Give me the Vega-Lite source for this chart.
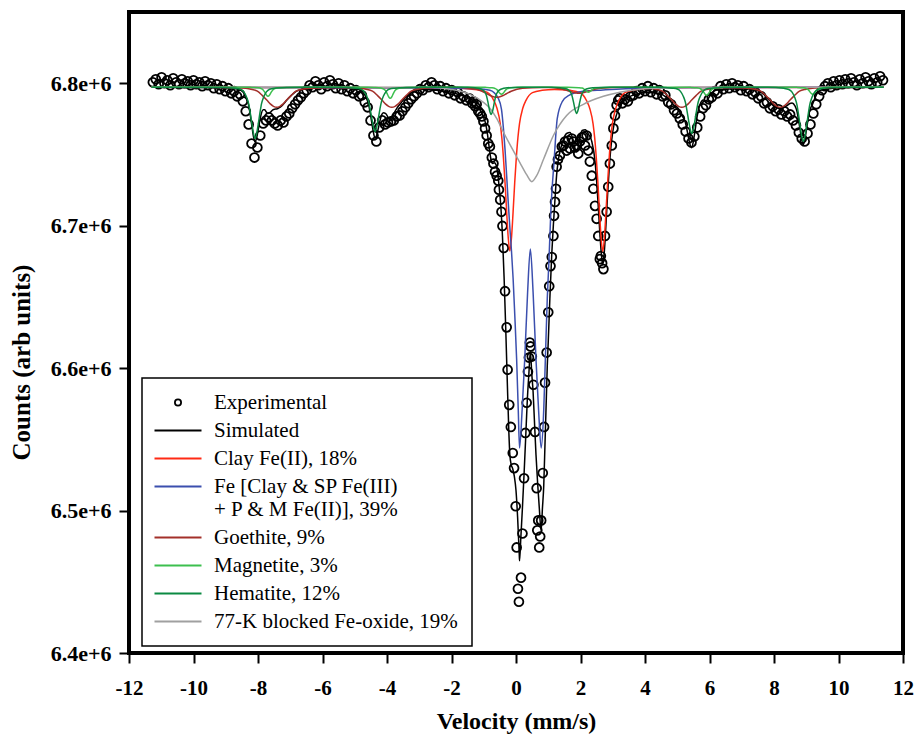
{
"$schema": "https://vega.github.io/schema/vega-lite/v6.json",
"width": 774,
"height": 641,
"autosize": {"type": "none"},
"padding": {"left": 129, "top": 12, "right": 11, "bottom": 87},
"background": "white",
"config": {
  "view": {"stroke": "black", "strokeWidth": 4},
  "font": "Liberation Serif",
  "axis": {"domain": false, "grid": false, "ticks": true, "tickColor": "black", "tickWidth": 2, "tickSize": 10, "labelFlush": false,
    "labelFont": "Liberation Serif", "labelFontWeight": "bold", "labelFontSize": 21, "labelColor": "black",
    "titleFont": "Liberation Serif", "titleFontWeight": "bold", "titleFontSize": 24, "titleColor": "black"},
  "legend": {"strokeWidth": 1.5}
},
"datasets": {
"exp": [
{"v":-11.26,"c":6.8007e6},{"v":-11.17,"c":6.8028e6},{"v":-11.08,"c":6.7993e6},{"v":-10.99,"c":6.8042e6},{"v":-10.90,"c":6.8000e6},{"v":-10.81,"c":6.8021e6},{"v":-10.72,"c":6.7986e6},{"v":-10.63,"c":6.8035e6},{"v":-10.54,"c":6.8007e6},{"v":-10.45,"c":6.7993e6},{"v":-10.36,"c":6.8028e6},{"v":-10.27,"c":6.8000e6},{"v":-10.18,"c":6.8014e6},{"v":-10.09,"c":6.7986e6},{"v":-10.00,"c":6.8021e6},{"v":-9.91,"c":6.7993e6},{"v":-9.82,"c":6.8007e6},{"v":-9.73,"c":6.7979e6},{"v":-9.64,"c":6.8014e6},{"v":-9.55,"c":6.7986e6},{"v":-9.46,"c":6.8000e6},{"v":-9.37,"c":6.7965e6},{"v":-9.28,"c":6.7993e6},{"v":-9.19,"c":6.7958e6},{"v":-9.10,"c":6.7979e6},{"v":-9.01,"c":6.7944e6},{"v":-8.92,"c":6.7965e6},{"v":-8.83,"c":6.7929e6},{"v":-8.74,"c":6.7944e6},{"v":-8.65,"c":6.7908e6},{"v":-8.56,"c":6.7922e6},{"v":-8.47,"c":6.7873e6},{"v":-8.38,"c":6.7803e6},{"v":-8.29,"c":6.7711e6},{"v":-8.20,"c":6.7577e6},{"v":-8.11,"c":6.7478e6},{"v":-8.02,"c":6.7549e6},{"v":-7.93,"c":6.7633e6},{"v":-7.84,"c":6.7718e6},{"v":-7.75,"c":6.7739e6},{"v":-7.66,"c":6.7760e6},{"v":-7.57,"c":6.7739e6},{"v":-7.48,"c":6.7718e6},{"v":-7.39,"c":6.7704e6},{"v":-7.30,"c":6.7739e6},{"v":-7.21,"c":6.7725e6},{"v":-7.12,"c":6.7767e6},{"v":-7.03,"c":6.7788e6},{"v":-6.94,"c":6.7824e6},{"v":-6.85,"c":6.7852e6},{"v":-6.76,"c":6.7880e6},{"v":-6.67,"c":6.7901e6},{"v":-6.58,"c":6.7929e6},{"v":-6.49,"c":6.7951e6},{"v":-6.40,"c":6.7986e6},{"v":-6.31,"c":6.7972e6},{"v":-6.22,"c":6.8014e6},{"v":-6.13,"c":6.7986e6},{"v":-6.04,"c":6.7958e6},{"v":-5.95,"c":6.8007e6},{"v":-5.86,"c":6.7979e6},{"v":-5.77,"c":6.8021e6},{"v":-5.68,"c":6.7993e6},{"v":-5.59,"c":6.7965e6},{"v":-5.50,"c":6.8000e6},{"v":-5.41,"c":6.7958e6},{"v":-5.32,"c":6.7986e6},{"v":-5.23,"c":6.7944e6},{"v":-5.14,"c":6.7965e6},{"v":-5.05,"c":6.7929e6},{"v":-4.96,"c":6.7951e6},{"v":-4.87,"c":6.7908e6},{"v":-4.78,"c":6.7915e6},{"v":-4.69,"c":6.7866e6},{"v":-4.60,"c":6.7831e6},{"v":-4.51,"c":6.7739e6},{"v":-4.42,"c":6.7633e6},{"v":-4.33,"c":6.7591e6},{"v":-4.24,"c":6.7690e6},{"v":-4.15,"c":6.7739e6},{"v":-4.06,"c":6.7711e6},{"v":-3.97,"c":6.7725e6},{"v":-3.88,"c":6.7732e6},{"v":-3.79,"c":6.7739e6},{"v":-3.70,"c":6.7767e6},{"v":-3.61,"c":6.7774e6},{"v":-3.52,"c":6.7803e6},{"v":-3.43,"c":6.7831e6},{"v":-3.34,"c":6.7859e6},{"v":-3.25,"c":6.7887e6},{"v":-3.16,"c":6.7908e6},{"v":-3.07,"c":6.7929e6},{"v":-2.98,"c":6.7958e6},{"v":-2.89,"c":6.7951e6},{"v":-2.80,"c":6.7986e6},{"v":-2.71,"c":6.7972e6},{"v":-2.62,"c":6.8007e6},{"v":-2.53,"c":6.7986e6},{"v":-2.44,"c":6.7958e6},{"v":-2.35,"c":6.7979e6},{"v":-2.26,"c":6.7944e6},{"v":-2.17,"c":6.7965e6},{"v":-2.08,"c":6.7929e6},{"v":-1.99,"c":6.7951e6},{"v":-1.90,"c":6.7915e6},{"v":-1.81,"c":6.7937e6},{"v":-1.72,"c":6.7894e6},{"v":-1.63,"c":6.7908e6},{"v":-1.54,"c":6.7880e6},{"v":-1.45,"c":6.7894e6},{"v":-1.36,"c":6.7859e6},
{"v":-1.32,"c":6.7873e6},{"v":-1.27,"c":6.7838e6},{"v":-1.22,"c":6.7852e6},{"v":-1.17,"c":6.7803e6},{"v":-1.11,"c":6.7788e6},{"v":-1.06,"c":6.7767e6},{"v":-1.01,"c":6.7732e6},{"v":-0.96,"c":6.7683e6},{"v":-0.91,"c":6.7633e6},{"v":-0.86,"c":6.7577e6},{"v":-0.81,"c":6.7556e6},{"v":-0.75,"c":6.7478e6},{"v":-0.70,"c":6.7436e6},{"v":-0.65,"c":6.7379e6},{"v":-0.60,"c":6.7351e6},{"v":-0.55,"c":6.7316e6},{"v":-0.53,"c":6.7252e6},{"v":-0.49,"c":6.7182e6},{"v":-0.45,"c":6.7097e6},{"v":-0.42,"c":6.6998e6},{"v":-0.38,"c":6.6843e6},{"v":-0.34,"c":6.6540e6},{"v":-0.29,"c":6.6286e6},{"v":-0.26,"c":6.5989e6},{"v":-0.21,"c":6.5742e6},{"v":-0.16,"c":6.5587e6},{"v":-0.10,"c":6.5404e6},{"v":-0.06,"c":6.5298e6},{"v":-0.01,"c":6.5030e6},{"v":0.02,"c":6.4741e6},{"v":0.06,"c":6.4451e6},{"v":0.09,"c":6.4360e6},{"v":0.155,"c":6.4529e6},{"v":0.20,"c":6.4839e6},{"v":0.25,"c":6.5227e6},{"v":0.29,"c":6.5545e6},{"v":0.33,"c":6.5757e6},{"v":0.37,"c":6.5975e6},{"v":0.40,"c":6.6074e6},{"v":0.43,"c":6.6180e6},{"v":0.45,"c":6.6152e6},{"v":0.49,"c":6.6081e6},{"v":0.54,"c":6.5883e6},{"v":0.59,"c":6.5552e6},{"v":0.64,"c":6.5157e6},{"v":0.66,"c":6.4861e6},{"v":0.69,"c":6.4931e6},{"v":0.72,"c":6.4741e6},{"v":0.75,"c":6.4818e6},{"v":0.78,"c":6.4931e6},{"v":0.83,"c":6.5263e6},{"v":0.87,"c":6.5587e6},{"v":0.90,"c":6.5898e6},{"v":0.95,"c":6.6109e6},{"v":1.00,"c":6.6392e6},{"v":1.03,"c":6.6575e6},{"v":1.07,"c":6.6716e6},{"v":1.11,"c":6.6780e6},{"v":1.16,"c":6.6928e6},{"v":1.18,"c":6.7069e6},{"v":1.21,"c":6.7167e6},{"v":1.24,"c":6.7259e6},{"v":1.26,"c":6.7414e6},{"v":1.30,"c":6.7464e6},{"v":1.36,"c":6.7492e6},{"v":1.42,"c":6.7556e6},{"v":1.47,"c":6.7563e6},{"v":1.52,"c":6.7591e6},{"v":1.57,"c":6.7527e6},{"v":1.62,"c":6.7598e6},{"v":1.67,"c":6.7542e6},{"v":1.73,"c":6.7612e6},{"v":1.78,"c":6.7591e6},{"v":1.83,"c":6.7549e6},{"v":1.88,"c":6.7563e6},{"v":1.93,"c":6.7506e6},{"v":1.98,"c":6.7591e6},{"v":2.04,"c":6.7619e6},{"v":2.09,"c":6.7626e6},{"v":2.14,"c":6.7563e6},{"v":2.19,"c":6.7633e6},{"v":2.24,"c":6.7527e6},{"v":2.29,"c":6.7450e6},{"v":2.35,"c":6.7351e6},{"v":2.40,"c":6.7259e6},{"v":2.45,"c":6.7139e6},{"v":2.50,"c":6.7048e6},{"v":2.55,"c":6.6928e6},{"v":2.60,"c":6.6765e6},{"v":2.63,"c":6.6787e6},{"v":2.67,"c":6.6737e6},{"v":2.71,"c":6.6695e6},{"v":2.76,"c":6.6928e6},{"v":2.81,"c":6.7097e6},{"v":2.86,"c":6.7273e6},{"v":2.91,"c":6.7436e6},{"v":2.97,"c":6.7563e6},{"v":3.02,"c":6.7683e6},{"v":3.07,"c":6.7774e6},{"v":3.12,"c":6.7845e6},{"v":3.17,"c":6.7880e6},{"v":3.22,"c":6.7894e6},{"v":3.30,"c":6.7859e6},{"v":3.38,"c":6.7887e6},{"v":3.47,"c":6.7873e6},{"v":3.55,"c":6.7908e6},{"v":3.64,"c":6.7915e6},{"v":3.73,"c":6.7944e6},{"v":3.82,"c":6.7929e6},{"v":3.91,"c":6.7965e6},
{"v":4.00,"c":6.7944e6},{"v":4.09,"c":6.7979e6},{"v":4.18,"c":6.7937e6},{"v":4.27,"c":6.7965e6},{"v":4.36,"c":6.7922e6},{"v":4.45,"c":6.7951e6},{"v":4.54,"c":6.7908e6},{"v":4.63,"c":6.7915e6},{"v":4.72,"c":6.7866e6},{"v":4.81,"c":6.7852e6},{"v":4.90,"c":6.7810e6},{"v":4.99,"c":6.7788e6},{"v":5.08,"c":6.7753e6},{"v":5.17,"c":6.7711e6},{"v":5.26,"c":6.7661e6},{"v":5.35,"c":6.7612e6},{"v":5.44,"c":6.7584e6},{"v":5.53,"c":6.7626e6},{"v":5.62,"c":6.7690e6},{"v":5.71,"c":6.7767e6},{"v":5.80,"c":6.7824e6},{"v":5.89,"c":6.7845e6},{"v":5.98,"c":6.7887e6},{"v":6.07,"c":6.7901e6},{"v":6.16,"c":6.7944e6},{"v":6.25,"c":6.7929e6},{"v":6.34,"c":6.7979e6},{"v":6.43,"c":6.7958e6},{"v":6.52,"c":6.7993e6},{"v":6.61,"c":6.7965e6},{"v":6.70,"c":6.8000e6},{"v":6.79,"c":6.7972e6},{"v":6.88,"c":6.7986e6},{"v":6.97,"c":6.7951e6},{"v":7.06,"c":6.7979e6},{"v":7.15,"c":6.7944e6},{"v":7.24,"c":6.7958e6},{"v":7.33,"c":6.7922e6},{"v":7.42,"c":6.7937e6},{"v":7.51,"c":6.7894e6},{"v":7.60,"c":6.7908e6},{"v":7.69,"c":6.7859e6},{"v":7.78,"c":6.7866e6},{"v":7.87,"c":6.7824e6},{"v":7.96,"c":6.7838e6},{"v":8.05,"c":6.7803e6},{"v":8.14,"c":6.7817e6},{"v":8.23,"c":6.7781e6},{"v":8.32,"c":6.7803e6},{"v":8.41,"c":6.7767e6},{"v":8.50,"c":6.7781e6},{"v":8.59,"c":6.7739e6},{"v":8.68,"c":6.7704e6},{"v":8.77,"c":6.7654e6},{"v":8.86,"c":6.7612e6},{"v":8.95,"c":6.7591e6},{"v":9.04,"c":6.7647e6},{"v":9.13,"c":6.7711e6},{"v":9.22,"c":6.7788e6},{"v":9.31,"c":6.7852e6},{"v":9.40,"c":6.7908e6},{"v":9.49,"c":6.7951e6},{"v":9.58,"c":6.7979e6},{"v":9.67,"c":6.8000e6},{"v":9.76,"c":6.7972e6},{"v":9.85,"c":6.8014e6},{"v":9.94,"c":6.7986e6},{"v":10.03,"c":6.8021e6},{"v":10.12,"c":6.7993e6},{"v":10.21,"c":6.8028e6},{"v":10.30,"c":6.8000e6},{"v":10.39,"c":6.8035e6},{"v":10.48,"c":6.8007e6},{"v":10.57,"c":6.7986e6},{"v":10.66,"c":6.8028e6},{"v":10.75,"c":6.8000e6},{"v":10.84,"c":6.8042e6},{"v":10.93,"c":6.8014e6},{"v":11.02,"c":6.7993e6},{"v":11.11,"c":6.8035e6},{"v":11.20,"c":6.8007e6},{"v":11.29,"c":6.8049e6},{"v":11.38,"c":6.8021e6}
],
"sim": [
{"v":-11.3,"c":6.7972e6},{"v":-10.5,"c":6.7971e6},{"v":-9.8,"c":6.7970e6},{"v":-9.3,"c":6.7969e6},{"v":-9.0,"c":6.7968e6},{"v":-8.8,"c":6.7965e6},{"v":-8.69,"c":6.7961e6},{"v":-8.54,"c":6.7952e6},{"v":-8.44,"c":6.7932e6},{"v":-8.35,"c":6.7890e6},{"v":-8.29,"c":6.7844e6},{"v":-8.24,"c":6.7777e6},{"v":-8.19,"c":6.7699e6},{"v":-8.14,"c":6.7626e6},{"v":-8.09,"c":6.7587e6},{"v":-8.04,"c":6.7618e6},{"v":-7.99,"c":6.7678e6},{"v":-7.94,"c":6.7742e6},{"v":-7.89,"c":6.7793e6},{"v":-7.84,"c":6.7814e6},{"v":-7.79,"c":6.7813e6},{"v":-7.74,"c":6.7798e6},{"v":-7.69,"c":6.7788e6},{"v":-7.64,"c":6.7792e6},{"v":-7.59,"c":6.7802e6},{"v":-7.54,"c":6.7813e6},{"v":-7.49,"c":6.7818e6},{"v":-7.42,"c":6.7819e6},{"v":-7.32,"c":6.7831e6},{"v":-7.22,"c":6.7851e6},{"v":-7.12,"c":6.7878e6},{"v":-6.97,"c":6.7914e6},{"v":-6.82,"c":6.7943e6},{"v":-6.62,"c":6.7958e6},{"v":-6.42,"c":6.7965e6},{"v":-6.1,"c":6.7968e6},{"v":-5.6,"c":6.7969e6},{"v":-5.3,"c":6.7966e6},{"v":-5.0,"c":6.7960e6},{"v":-4.82,"c":6.7950e6},{"v":-4.72,"c":6.7929e6},{"v":-4.63,"c":6.7891e6},{"v":-4.57,"c":6.7850e6},{"v":-4.52,"c":6.7790e6},{"v":-4.47,"c":6.7721e6},{"v":-4.42,"c":6.7654e6},{"v":-4.37,"c":6.7614e6},{"v":-4.32,"c":6.7634e6},{"v":-4.27,"c":6.7682e6},{"v":-4.22,"c":6.7734e6},{"v":-4.17,"c":6.7776e6},{"v":-4.11,"c":6.7792e6},{"v":-4.05,"c":6.7788e6},{"v":-4.00,"c":6.7774e6},{"v":-3.95,"c":6.7751e6},{"v":-3.90,"c":6.7740e6},{"v":-3.85,"c":6.7749e6},{"v":-3.80,"c":6.7779e6},{"v":-3.75,"c":6.7803e6},{"v":-3.70,"c":6.7822e6},{"v":-3.60,"c":6.7852e6},{"v":-3.50,"c":6.7880e6},{"v":-3.40,"c":6.7905e6},{"v":-3.25,"c":6.7935e6},{"v":-3.05,"c":6.7949e6},{"v":-2.85,"c":6.7957e6},{"v":-2.5,"c":6.7951e6},{"v":-2.2,"c":6.7944e6},{"v":-2.0,"c":6.7937e6},{"v":-1.8,"c":6.7922e6},{"v":-1.6,"c":6.7908e6},{"v":-1.4,"c":6.7886e6},{"v":-1.2,"c":6.7843e6},{"v":-1.10,"c":6.7806e6},{"v":-1.00,"c":6.7757e6},{"v":-0.95,"c":6.7723e6},{"v":-0.90,"c":6.7665e6},{"v":-0.85,"c":6.7583e6},{"v":-0.82,"c":6.7529e6},{"v":-0.77,"c":6.7459e6},{"v":-0.72,"c":6.7436e6},{"v":-0.67,"c":6.7441e6},{"v":-0.62,"c":6.7427e6},{"v":-0.57,"c":6.7371e6},{"v":-0.52,"c":6.7266e6},{"v":-0.47,"c":6.7134e6},{"v":-0.42,"c":6.6928e6},{"v":-0.37,"c":6.6641e6},{"v":-0.32,"c":6.6291e6},{"v":-0.27,"c":6.5903e6},{"v":-0.22,"c":6.5540e6},{"v":-0.19,"c":6.5390e6},{"v":-0.15,"c":6.5324e6},{"v":-0.10,"c":6.5292e6},{"v":-0.05,"c":6.5238e6},{"v":0.00,"c":6.5141e6},{"v":0.05,"c":6.4952e6},{"v":0.10,"c":6.4698e6},{"v":0.11,"c":6.4647e6},{"v":0.15,"c":6.4809e6},{"v":0.20,"c":6.5021e6},{"v":0.25,"c":6.5256e6},{"v":0.30,"c":6.5510e6},{"v":0.35,"c":6.5772e6},{"v":0.40,"c":6.5964e6},{"v":0.445,"c":6.6118e6},{"v":0.49,"c":6.5956e6},{"v":0.53,"c":6.5834e6},{"v":0.57,"c":6.5637e6},{"v":0.62,"c":6.5392e6},{"v":0.67,"c":6.5195e6},{"v":0.72,"c":6.5026e6},{"v":0.78,"c":6.4858e6},{"v":0.82,"c":6.5016e6},{"v":0.86,"c":6.5172e6},{"v":0.90,"c":6.5475e6},{"v":0.94,"c":6.5784e6},{"v":0.97,"c":6.6016e6},{"v":1.00,"c":6.6185e6},{"v":1.05,"c":6.6490e6},{"v":1.11,"c":6.6806e6},{"v":1.16,"c":6.7010e6},{"v":1.21,"c":6.7188e6},{"v":1.26,"c":6.7357e6},{"v":1.31,"c":6.7457e6},{"v":1.39,"c":6.7544e6},{"v":1.47,"c":6.7606e6},{"v":1.57,"c":6.7647e6},{"v":1.67,"c":6.7654e6},{"v":1.75,"c":6.7618e6},{"v":1.80,"c":6.7571e6},{"v":1.85,"c":6.7527e6},{"v":1.88,"c":6.7519e6},{"v":1.93,"c":6.7554e6},{"v":1.98,"c":6.7615e6},{"v":2.05,"c":6.7668e6},{"v":2.15,"c":6.7674e6},{"v":2.25,"c":6.7641e6},{"v":2.35,"c":6.7591e6},{"v":2.45,"c":6.7454e6},{"v":2.50,"c":6.7314e6},{"v":2.55,"c":6.7139e6},{"v":2.60,"c":6.6949e6},{"v":2.65,"c":6.6791e6},{"v":2.69,"c":6.6724e6},{"v":2.74,"c":6.6820e6},{"v":2.79,"c":6.7009e6},{"v":2.84,"c":6.7217e6},{"v":2.89,"c":6.7398e6},{"v":2.94,"c":6.7542e6},{"v":3.00,"c":6.7658e6},{"v":3.10,"c":6.7766e6},{"v":3.20,"c":6.7826e6},{"v":3.35,"c":6.7877e6},{"v":3.50,"c":6.7903e6},{"v":3.70,"c":6.7921e6},{"v":4.00,"c":6.7935e6},{"v":4.30,"c":6.7933e6},{"v":4.50,"c":6.7924e6},{"v":4.65,"c":6.7903e6},{"v":4.75,"c":6.7884e6},{"v":4.85,"c":6.7857e6},{"v":4.95,"c":6.7830e6},{"v":5.05,"c":6.7805e6},{"v":5.14,"c":6.7776e6},{"v":5.20,"c":6.7753e6},{"v":5.25,"c":6.7725e6},{"v":5.30,"c":6.7675e6},{"v":5.35,"c":6.7617e6},{"v":5.40,"c":6.7566e6},{"v":5.45,"c":6.7547e6},{"v":5.50,"c":6.7592e6},{"v":5.55,"c":6.7664e6},{"v":5.60,"c":6.7743e6},{"v":5.65,"c":6.7807e6},{"v":5.70,"c":6.7848e6},{"v":5.76,"c":6.7875e6},{"v":5.81,"c":6.7882e6},{"v":5.86,"c":6.7877e6},{"v":5.91,"c":6.7879e6},{"v":5.96,"c":6.7891e6},{"v":6.01,"c":6.7911e6},{"v":6.06,"c":6.7928e6},{"v":6.15,"c":6.7946e6},{"v":6.35,"c":6.7956e6},{"v":6.6,"c":6.7959e6},{"v":6.9,"c":6.7961e6},{"v":7.2,"c":6.7959e6},{"v":7.4,"c":6.7953e6},{"v":7.59,"c":6.7938e6},{"v":7.74,"c":6.7910e6},{"v":7.89,"c":6.7874e6},{"v":7.99,"c":6.7848e6},{"v":8.09,"c":6.7827e6},{"v":8.19,"c":6.7822e6},{"v":8.29,"c":6.7828e6},{"v":8.39,"c":6.7841e6},{"v":8.49,"c":6.7858e6},{"v":8.56,"c":6.7862e6},{"v":8.65,"c":6.7841e6},{"v":8.71,"c":6.7805e6},{"v":8.76,"c":6.7745e6},{"v":8.81,"c":6.7673e6},{"v":8.86,"c":6.7603e6},{"v":8.91,"c":6.7568e6},{"v":8.96,"c":6.7607e6},{"v":9.01,"c":6.7679e6},{"v":9.06,"c":6.7752e6},{"v":9.11,"c":6.7810e6},{"v":9.17,"c":6.7841e6},{"v":9.20,"c":6.7855e6},{"v":9.26,"c":6.7891e6},{"v":9.31,"c":6.7917e6},{"v":9.36,"c":6.7936e6},{"v":9.45,"c":6.7951e6},{"v":9.6,"c":6.7958e6},{"v":9.9,"c":6.7967e6},{"v":10.5,"c":6.7970e6},{"v":11.4,"c":6.7972e6}
],
"clay": [
{"v":-11.3,"c":6.7972e6},{"v":-2.2,"c":6.7968e6},{"v":-1.2,"c":6.7954e6},{"v":-0.89,"c":6.7936e6},{"v":-0.69,"c":6.7880e6},{"v":-0.59,"c":6.7824e6},{"v":-0.49,"c":6.7718e6},{"v":-0.44,"c":6.7619e6},{"v":-0.39,"c":6.7478e6},{"v":-0.34,"c":6.7302e6},{"v":-0.29,"c":6.7097e6},{"v":-0.24,"c":6.6914e6},{"v":-0.19,"c":6.6822e6},{"v":-0.14,"c":6.6914e6},{"v":-0.09,"c":6.7097e6},{"v":-0.04,"c":6.7302e6},{"v":0.01,"c":6.7478e6},{"v":0.06,"c":6.7619e6},{"v":0.11,"c":6.7718e6},{"v":0.21,"c":6.7824e6},{"v":0.31,"c":6.7880e6},{"v":0.51,"c":6.7934e6},{"v":0.81,"c":6.7950e6},{"v":1.19,"c":6.7956e6},{"v":1.49,"c":6.7953e6},{"v":1.69,"c":6.7950e6},{"v":1.99,"c":6.7933e6},{"v":2.19,"c":6.7877e6},{"v":2.29,"c":6.7821e6},{"v":2.39,"c":6.7715e6},{"v":2.44,"c":6.7616e6},{"v":2.49,"c":6.7475e6},{"v":2.54,"c":6.7299e6},{"v":2.59,"c":6.7094e6},{"v":2.64,"c":6.6911e6},{"v":2.69,"c":6.6818e6},{"v":2.74,"c":6.6912e6},{"v":2.79,"c":6.7096e6},{"v":2.84,"c":6.7300e6},{"v":2.89,"c":6.7477e6},{"v":2.94,"c":6.7618e6},{"v":2.99,"c":6.7716e6},{"v":3.09,"c":6.7822e6},{"v":3.19,"c":6.7879e6},{"v":3.39,"c":6.7936e6},{"v":3.69,"c":6.7954e6},{"v":4.19,"c":6.7965e6},{"v":4.69,"c":6.7968e6},{"v":5.7,"c":6.7970e6},{"v":11.4,"c":6.7972e6}
],
"fe": [
{"v":-11.3,"c":6.7972e6},{"v":-4,"c":6.7968e6},{"v":-2,"c":6.7965e6},{"v":-1.2,"c":6.7961e6},{"v":-0.81,"c":6.7951e6},{"v":-0.55,"c":6.7894e6},{"v":-0.45,"c":6.7817e6},{"v":-0.39,"c":6.7683e6},{"v":-0.34,"c":6.7534e6},{"v":-0.29,"c":6.7351e6},{"v":-0.24,"c":6.7160e6},{"v":-0.19,"c":6.6984e6},{"v":-0.14,"c":6.6822e6},{"v":-0.09,"c":6.6631e6},{"v":-0.04,"c":6.6384e6},{"v":0.02,"c":6.6060e6},{"v":0.07,"c":6.5707e6},{"v":0.11,"c":6.5439e6},{"v":0.19,"c":6.5707e6},{"v":0.27,"c":6.6060e6},{"v":0.36,"c":6.6533e6},{"v":0.445,"c":6.6836e6},{"v":0.53,"c":6.6533e6},{"v":0.62,"c":6.6060e6},{"v":0.70,"c":6.5707e6},{"v":0.78,"c":6.5439e6},{"v":0.86,"c":6.5707e6},{"v":0.91,"c":6.6060e6},{"v":0.97,"c":6.6490e6},{"v":1.02,"c":6.6744e6},{"v":1.08,"c":6.7097e6},{"v":1.18,"c":6.7450e6},{"v":1.28,"c":6.7753e6},{"v":1.44,"c":6.7873e6},{"v":1.64,"c":6.7915e6},{"v":2.08,"c":6.7944e6},{"v":2.70,"c":6.7953e6},{"v":3.84,"c":6.7965e6},{"v":6,"c":6.7970e6},{"v":11.4,"c":6.7972e6}
],
"goe": [
{"v":-11.3,"c":6.7972e6},{"v":-9.2,"c":6.7972e6},{"v":-8.62,"c":6.7968e6},{"v":-8.22,"c":6.7958e6},{"v":-8.02,"c":6.7944e6},{"v":-7.87,"c":6.7915e6},{"v":-7.72,"c":6.7880e6},{"v":-7.62,"c":6.7855e6},{"v":-7.52,"c":6.7838e6},{"v":-7.42,"c":6.7831e6},{"v":-7.32,"c":6.7838e6},{"v":-7.22,"c":6.7855e6},{"v":-7.12,"c":6.7880e6},{"v":-6.97,"c":6.7915e6},{"v":-6.82,"c":6.7944e6},{"v":-6.62,"c":6.7958e6},{"v":-6.42,"c":6.7965e6},{"v":-6.1,"c":6.7968e6},{"v":-5.6,"c":6.7972e6},{"v":-5.05,"c":6.7968e6},{"v":-4.65,"c":6.7958e6},{"v":-4.45,"c":6.7944e6},{"v":-4.30,"c":6.7915e6},{"v":-4.15,"c":6.7880e6},{"v":-4.05,"c":6.7855e6},{"v":-3.95,"c":6.7838e6},{"v":-3.85,"c":6.7831e6},{"v":-3.75,"c":6.7838e6},{"v":-3.65,"c":6.7855e6},{"v":-3.55,"c":6.7880e6},{"v":-3.40,"c":6.7915e6},{"v":-3.25,"c":6.7944e6},{"v":-3.05,"c":6.7958e6},{"v":-2.85,"c":6.7965e6},{"v":-2.5,"c":6.7970e6},{"v":-2.0,"c":6.7972e6},{"v":-1.4,"c":6.7965e6},{"v":-1.05,"c":6.7944e6},{"v":-0.9,"c":6.7926e6},{"v":-0.8,"c":6.7914e6},{"v":-0.7,"c":6.7905e6},{"v":-0.6,"c":6.7901e6},{"v":-0.5,"c":6.7905e6},{"v":-0.4,"c":6.7914e6},{"v":-0.3,"c":6.7926e6},{"v":-0.15,"c":6.7944e6},{"v":0.2,"c":6.7965e6},{"v":0.8,"c":6.7970e6},{"v":1.0,"c":6.7970e6},{"v":1.35,"c":6.7963e6},{"v":1.65,"c":6.7944e6},{"v":1.85,"c":6.7932e6},{"v":1.95,"c":6.7929e6},{"v":2.05,"c":6.7932e6},{"v":2.25,"c":6.7944e6},{"v":2.55,"c":6.7963e6},{"v":3.0,"c":6.7970e6},{"v":3.6,"c":6.7972e6},{"v":4.14,"c":6.7965e6},{"v":4.34,"c":6.7958e6},{"v":4.54,"c":6.7944e6},{"v":4.69,"c":6.7915e6},{"v":4.84,"c":6.7880e6},{"v":4.94,"c":6.7855e6},{"v":5.04,"c":6.7838e6},{"v":5.14,"c":6.7831e6},{"v":5.24,"c":6.7838e6},{"v":5.34,"c":6.7855e6},{"v":5.44,"c":6.7880e6},{"v":5.59,"c":6.7915e6},{"v":5.74,"c":6.7944e6},{"v":5.94,"c":6.7958e6},{"v":6.14,"c":6.7965e6},{"v":6.6,"c":6.7970e6},{"v":7.0,"c":6.7968e6},{"v":7.19,"c":6.7965e6},{"v":7.39,"c":6.7958e6},{"v":7.59,"c":6.7944e6},{"v":7.74,"c":6.7915e6},{"v":7.89,"c":6.7880e6},{"v":7.99,"c":6.7855e6},{"v":8.09,"c":6.7838e6},{"v":8.19,"c":6.7831e6},{"v":8.29,"c":6.7838e6},{"v":8.39,"c":6.7855e6},{"v":8.49,"c":6.7880e6},{"v":8.64,"c":6.7915e6},{"v":8.79,"c":6.7944e6},{"v":8.99,"c":6.7958e6},{"v":9.19,"c":6.7965e6},{"v":9.6,"c":6.7970e6},{"v":10.2,"c":6.7972e6},{"v":11.4,"c":6.7972e6}
],
"mag": [
{"v":-11.3,"c":6.7972e6},{"v":-8.3,"c":6.7972e6},{"v":-8.19,"c":6.7970e6},{"v":-7.99,"c":6.7968e6},{"v":-7.89,"c":6.7961e6},{"v":-7.84,"c":6.7953e6},{"v":-7.79,"c":6.7937e6},{"v":-7.74,"c":6.7917e6},{"v":-7.69,"c":6.7908e6},{"v":-7.64,"c":6.7917e6},{"v":-7.59,"c":6.7937e6},{"v":-7.54,"c":6.7953e6},{"v":-7.49,"c":6.7961e6},{"v":-7.39,"c":6.7968e6},{"v":-7.19,"c":6.7970e6},{"v":-6.6,"c":6.7972e6},{"v":-4.6,"c":6.7972e6},{"v":-4.40,"c":6.7970e6},{"v":-4.20,"c":6.7966e6},{"v":-4.10,"c":6.7958e6},{"v":-4.05,"c":6.7949e6},{"v":-4.00,"c":6.7929e6},{"v":-3.95,"c":6.7905e6},{"v":-3.90,"c":6.7894e6},{"v":-3.85,"c":6.7905e6},{"v":-3.80,"c":6.7929e6},{"v":-3.75,"c":6.7949e6},{"v":-3.70,"c":6.7958e6},{"v":-3.60,"c":6.7966e6},{"v":-3.40,"c":6.7970e6},{"v":-2.8,"c":6.7972e6},{"v":-1.1,"c":6.7972e6},{"v":-0.95,"c":6.7971e6},{"v":-0.75,"c":6.7968e6},{"v":-0.65,"c":6.7963e6},{"v":-0.6,"c":6.7957e6},{"v":-0.55,"c":6.7944e6},{"v":-0.5,"c":6.7929e6},{"v":-0.45,"c":6.7922e6},{"v":-0.4,"c":6.7929e6},{"v":-0.35,"c":6.7944e6},{"v":-0.3,"c":6.7957e6},{"v":-0.25,"c":6.7963e6},{"v":-0.15,"c":6.7968e6},{"v":0.05,"c":6.7971e6},{"v":0.5,"c":6.7972e6},{"v":1.6,"c":6.7972e6},{"v":1.95,"c":6.7969e6},{"v":2.05,"c":6.7966e6},{"v":2.1,"c":6.7961e6},{"v":2.15,"c":6.7952e6},{"v":2.2,"c":6.7942e6},{"v":2.25,"c":6.7937e6},{"v":2.3,"c":6.7942e6},{"v":2.35,"c":6.7952e6},{"v":2.4,"c":6.7961e6},{"v":2.45,"c":6.7966e6},{"v":2.55,"c":6.7969e6},{"v":2.9,"c":6.7972e6},{"v":5.2,"c":6.7972e6},{"v":5.41,"c":6.7971e6},{"v":5.61,"c":6.7968e6},{"v":5.71,"c":6.7962e6},{"v":5.76,"c":6.7955e6},{"v":5.81,"c":6.7941e6},{"v":5.86,"c":6.7924e6},{"v":5.91,"c":6.7915e6},{"v":5.96,"c":6.7924e6},{"v":6.01,"c":6.7941e6},{"v":6.06,"c":6.7955e6},{"v":6.11,"c":6.7962e6},{"v":6.21,"c":6.7968e6},{"v":6.41,"c":6.7971e6},{"v":7.0,"c":6.7972e6},{"v":8.5,"c":6.7972e6},{"v":8.7,"c":6.7971e6},{"v":8.9,"c":6.7968e6},{"v":9.0,"c":6.7963e6},{"v":9.05,"c":6.7957e6},{"v":9.1,"c":6.7944e6},{"v":9.15,"c":6.7929e6},{"v":9.2,"c":6.7922e6},{"v":9.25,"c":6.7929e6},{"v":9.3,"c":6.7944e6},{"v":9.35,"c":6.7957e6},{"v":9.4,"c":6.7963e6},{"v":9.5,"c":6.7968e6},{"v":9.7,"c":6.7971e6},{"v":10.2,"c":6.7972e6},{"v":11.4,"c":6.7972e6}
],
"hem": [
{"v":-11.3,"c":6.7972e6},{"v":-9.1,"c":6.7970e6},{"v":-8.69,"c":6.7965e6},{"v":-8.54,"c":6.7958e6},{"v":-8.44,"c":6.7939e6},{"v":-8.35,"c":6.7900e6},{"v":-8.29,"c":6.7857e6},{"v":-8.24,"c":6.7792e6},{"v":-8.19,"c":6.7716e6},{"v":-8.14,"c":6.7648e6},{"v":-8.09,"c":6.7612e6},{"v":-8.04,"c":6.7648e6},{"v":-7.99,"c":6.7716e6},{"v":-7.94,"c":6.7792e6},{"v":-7.89,"c":6.7857e6},{"v":-7.83,"c":6.7900e6},{"v":-7.74,"c":6.7939e6},{"v":-7.64,"c":6.7958e6},{"v":-7.49,"c":6.7965e6},{"v":-7.09,"c":6.7970e6},{"v":-6.5,"c":6.7972e6},{"v":-5.5,"c":6.7972e6},{"v":-4.97,"c":6.7965e6},{"v":-4.82,"c":6.7959e6},{"v":-4.72,"c":6.7944e6},{"v":-4.63,"c":6.7910e6},{"v":-4.57,"c":6.7873e6},{"v":-4.52,"c":6.7817e6},{"v":-4.47,"c":6.7752e6},{"v":-4.42,"c":6.7692e6},{"v":-4.37,"c":6.7661e6},{"v":-4.32,"c":6.7692e6},{"v":-4.27,"c":6.7752e6},{"v":-4.22,"c":6.7817e6},{"v":-4.17,"c":6.7873e6},{"v":-4.11,"c":6.7910e6},{"v":-4.02,"c":6.7944e6},{"v":-3.92,"c":6.7959e6},{"v":-3.77,"c":6.7965e6},{"v":-3.37,"c":6.7970e6},{"v":-2.5,"c":6.7972e6},{"v":-1.5,"c":6.7972e6},{"v":-1.27,"c":6.7968e6},{"v":-1.07,"c":6.7958e6},{"v":-0.97,"c":6.7939e6},{"v":-0.92,"c":6.7915e6},{"v":-0.87,"c":6.7867e6},{"v":-0.82,"c":6.7810e6},{"v":-0.77,"c":6.7781e6},{"v":-0.72,"c":6.7810e6},{"v":-0.67,"c":6.7867e6},{"v":-0.62,"c":6.7915e6},{"v":-0.57,"c":6.7939e6},{"v":-0.47,"c":6.7958e6},{"v":-0.27,"c":6.7968e6},{"v":0.2,"c":6.7972e6},{"v":1.1,"c":6.7972e6},{"v":1.38,"c":6.7968e6},{"v":1.58,"c":6.7959e6},{"v":1.68,"c":6.7941e6},{"v":1.73,"c":6.7917e6},{"v":1.78,"c":6.7871e6},{"v":1.83,"c":6.7816e6},{"v":1.88,"c":6.7788e6},{"v":1.93,"c":6.7816e6},{"v":1.98,"c":6.7871e6},{"v":2.03,"c":6.7917e6},{"v":2.08,"c":6.7941e6},{"v":2.18,"c":6.7959e6},{"v":2.38,"c":6.7968e6},{"v":2.9,"c":6.7972e6},{"v":4.4,"c":6.7972e6},{"v":4.85,"c":6.7965e6},{"v":5.0,"c":6.7959e6},{"v":5.1,"c":6.7943e6},{"v":5.19,"c":6.7907e6},{"v":5.25,"c":6.7868e6},{"v":5.30,"c":6.7810e6},{"v":5.35,"c":6.7741e6},{"v":5.40,"c":6.7680e6},{"v":5.45,"c":6.7647e6},{"v":5.50,"c":6.7680e6},{"v":5.55,"c":6.7741e6},{"v":5.60,"c":6.7810e6},{"v":5.65,"c":6.7868e6},{"v":5.71,"c":6.7907e6},{"v":5.80,"c":6.7943e6},{"v":5.90,"c":6.7959e6},{"v":6.05,"c":6.7965e6},{"v":6.45,"c":6.7970e6},{"v":7.0,"c":6.7972e6},{"v":7.8,"c":6.7972e6},{"v":8.31,"c":6.7964e6},{"v":8.46,"c":6.7956e6},{"v":8.56,"c":6.7937e6},{"v":8.65,"c":6.7896e6},{"v":8.71,"c":6.7850e6},{"v":8.76,"c":6.7781e6},{"v":8.81,"c":6.7702e6},{"v":8.86,"c":6.7629e6},{"v":8.91,"c":6.7591e6},{"v":8.96,"c":6.7629e6},{"v":9.01,"c":6.7702e6},{"v":9.06,"c":6.7781e6},{"v":9.11,"c":6.7850e6},{"v":9.17,"c":6.7896e6},{"v":9.26,"c":6.7937e6},{"v":9.36,"c":6.7956e6},{"v":9.51,"c":6.7964e6},{"v":9.91,"c":6.7970e6},{"v":10.6,"c":6.7972e6},{"v":11.4,"c":6.7972e6}
],
"grey": [
{"v":-11.3,"c":6.7972e6},{"v":-2.7,"c":6.7972e6},{"v":-2.05,"c":6.7958e6},{"v":-1.43,"c":6.7922e6},{"v":-1.01,"c":6.7866e6},{"v":-0.81,"c":6.7824e6},{"v":-0.60,"c":6.7753e6},{"v":-0.40,"c":6.7661e6},{"v":-0.19,"c":6.7570e6},{"v":0.12,"c":6.7443e6},{"v":0.33,"c":6.7358e6},{"v":0.49,"c":6.7309e6},{"v":0.64,"c":6.7351e6},{"v":0.85,"c":6.7464e6},{"v":1.16,"c":6.7633e6},{"v":1.57,"c":6.7774e6},{"v":2.09,"c":6.7852e6},{"v":2.71,"c":6.7908e6},{"v":3.22,"c":6.7937e6},{"v":3.84,"c":6.7958e6},{"v":4.78,"c":6.7968e6},{"v":5.5,"c":6.7972e6},{"v":11.4,"c":6.7972e6}
]
},
"encoding": {
  "x": {"field": "v", "type": "quantitative", "scale": {"domain": [-12, 12], "nice": false, "zero": false},
    "axis": {"values": [-12,-10,-8,-6,-4,-2,0,2,4,6,8,10,12], "labelExpr": "'' + datum.value", "labelPadding": 14, "title": "Velocity (mm/s)", "titlePadding": 11}},
  "y": {"field": "c", "type": "quantitative", "scale": {"domain": [6400000, 6850000], "nice": false, "zero": false},
    "axis": {"values": [6400000, 6500000, 6600000, 6700000, 6800000], "labelExpr": "format(datum.value / 1000000, '.1f') + 'e+6'", "labelFontSize": 22, "labelPadding": 8, "title": "Counts (arb units)", "titleFontSize": 25, "titlePadding": 16, "titleY": 350}}
},
"layer": [
  {"data": {"name": "exp"}, "mark": {"type": "point", "filled": false, "size": 205, "strokeWidth": 1.8, "opacity": 1},
   "encoding": {
     "color": {"datum": "Experimental", "type": "nominal",
       "scale": {"domain": ["Experimental", "Simulated", "Clay Fe(II), 18%", "Fe [Clay & SP Fe(III) + P & M Fe(II)], 39%", "Goethite, 9%", "Magnetite, 3%", "Hematite, 12%", "77-K blocked Fe-oxide, 19%"],
                 "range": ["#000000", "#000000", "#ff2a14", "#3b4fae", "#a3302a", "#3cbf4e", "#0b8a42", "#a0a0a0"]},
       "legend": {"title": null, "orient": "none", "legendX": 13, "legendY": 366, "padding": 14, "strokeColor": "black", "fillColor": "white",
         "labelFont": "Liberation Serif", "labelFontSize": 21, "labelColor": "black", "labelLimit": 500, "labelOffset": 25.5,
         "symbolSize": 100, "symbolOffset": 11.5, "symbolStrokeWidth": 1.8, "rowPadding": 6,
         "labelExpr": "datum.label == 'Fe [Clay & SP Fe(III) + P & M Fe(II)], 39%' ? ['Fe [Clay & SP Fe(III)', '+ P & M Fe(II)], 39%'] : datum.label"}},
     "shape": {"datum": "Experimental", "type": "nominal",
       "scale": {"domain": ["Experimental", "Simulated", "Clay Fe(II), 18%", "Fe [Clay & SP Fe(III) + P & M Fe(II)], 39%", "Goethite, 9%", "Magnetite, 3%", "Hematite, 12%", "77-K blocked Fe-oxide, 19%"],
                 "range": ["M0.62,0A0.62,0.62,0,1,1,-0.62,0A0.62,0.62,0,1,1,0.62,0Z", "M-4.7,0L4.7,0", "M-4.7,0L4.7,0", "M-4.7,0L4.7,0", "M-4.7,0L4.7,0", "M-4.7,0L4.7,0", "M-4.7,0L4.7,0", "M-4.7,0L4.7,0"]},
       "legend": {"title": null, "orient": "none", "legendX": 13, "legendY": 366, "padding": 14, "strokeColor": "black", "fillColor": "white",
         "labelFont": "Liberation Serif", "labelFontSize": 21, "labelColor": "black", "labelLimit": 500, "labelOffset": 25.5,
         "symbolSize": 100, "symbolOffset": 11.5, "symbolStrokeWidth": 1.8, "rowPadding": 6,
         "labelExpr": "datum.label == 'Fe [Clay & SP Fe(III) + P & M Fe(II)], 39%' ? ['Fe [Clay & SP Fe(III)', '+ P & M Fe(II)], 39%'] : datum.label"}}
   }},
  {"data": {"name": "sim"}, "mark": {"type": "line", "strokeWidth": 1.5, "interpolate": "monotone"}, "encoding": {"color": {"datum": "Simulated", "type": "nominal"}}},
  {"data": {"name": "clay"}, "mark": {"type": "line", "strokeWidth": 1.5, "interpolate": "monotone"}, "encoding": {"color": {"datum": "Clay Fe(II), 18%", "type": "nominal"}}},
  {"data": {"name": "fe"}, "mark": {"type": "line", "strokeWidth": 1.5, "interpolate": "monotone"}, "encoding": {"color": {"datum": "Fe [Clay & SP Fe(III) + P & M Fe(II)], 39%", "type": "nominal"}}},
  {"data": {"name": "goe"}, "mark": {"type": "line", "strokeWidth": 1.5, "interpolate": "monotone"}, "encoding": {"color": {"datum": "Goethite, 9%", "type": "nominal"}}},
  {"data": {"name": "grey"}, "mark": {"type": "line", "strokeWidth": 1.5, "interpolate": "monotone"}, "encoding": {"color": {"datum": "77-K blocked Fe-oxide, 19%", "type": "nominal"}}},
  {"data": {"name": "mag"}, "mark": {"type": "line", "strokeWidth": 1.5, "interpolate": "monotone"}, "encoding": {"color": {"datum": "Magnetite, 3%", "type": "nominal"}}},
  {"data": {"name": "hem"}, "mark": {"type": "line", "strokeWidth": 1.5, "interpolate": "monotone"}, "encoding": {"color": {"datum": "Hematite, 12%", "type": "nominal"}}}
]
}
